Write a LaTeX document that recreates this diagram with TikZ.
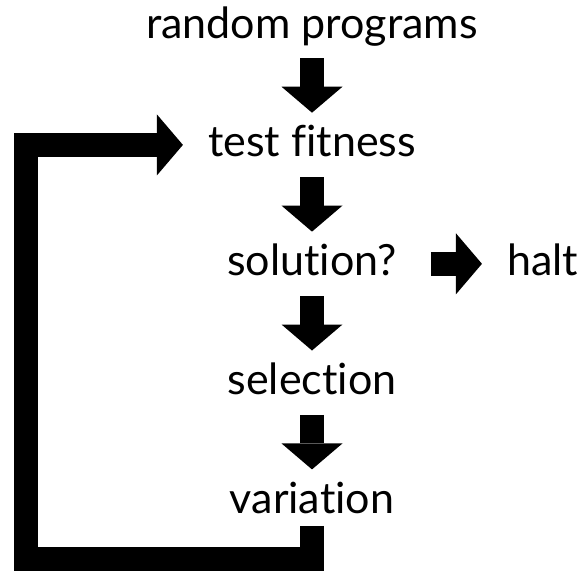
\documentclass[tikz,border=0pt]{standalone}
\usepackage{fontspec}
\setmainfont{Lato}[Ligatures={NoCommon,NoDiscretionary}]
\usetikzlibrary{arrows.meta,positioning}

\begin{document}
\begin{tikzpicture}[
    x=1pt, y=-1pt,
    node distance=54.5pt,
    stage/.style={inner sep=0pt, text height=44pt, text depth=20pt, font=\fontsize{43}{50}\selectfont},
    flow/.style={-{Triangle[length=26pt, width=61pt, line width=0pt]}, line width=24pt}
  ]
  \useasboundingbox (0,0) rectangle (587,571);
  \node[stage] (rand) at (312,26) {random programs};
  \node[stage, below=of rand] (fit) {test fitness};
  \node[stage, below=of fit] (sol) {solution?};
  \node[stage, below=of sol] (sel) {selection};
  \node[stage, below=of sel] (var) {variation};
  \node[stage, right=110pt of sol] (halt) {halt};
  \coordinate (loopstart) at ([yshift=8pt]var.south);
  \coordinate (loopcorner) at (25.5,559);
  \draw[flow] (rand.south) -- (fit.north);
  \draw[flow] (fit.south) -- (sol.north);
  \draw[flow] (sol.south) -- (sel.north);
  \draw[flow] (sel.south) -- (var.north);
  \draw[flow, shorten <=34pt, shorten >=25pt] (sol.east) -- (halt.west);
  \draw[flow, shorten >=25pt] (loopstart) |- (loopcorner) |- (fit.west);
\end{tikzpicture}
\end{document}
